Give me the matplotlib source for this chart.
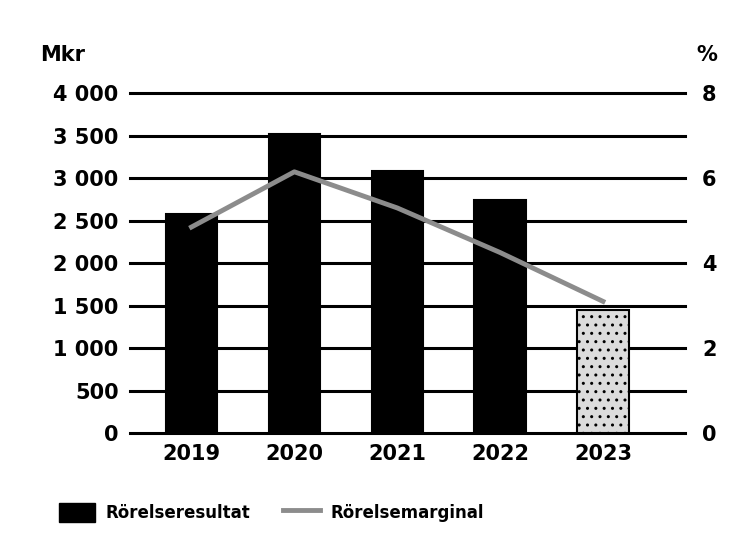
import matplotlib
matplotlib.use("Agg")
import matplotlib.pyplot as plt
from matplotlib.patches import Patch
from matplotlib.lines import Line2D

# data
years = ["2019", "2020", "2021", "2022", "2023"]
resultat_mkr = [2580, 3520, 3080, 2740, 1450]   # Rörelseresultat, Mkr
marginal_pct = [4.85, 6.15, 5.3, 4.25, 3.1]     # Rörelsemarginal, %
left_ticks = [0, 500, 1000, 1500, 2000, 2500, 3000, 3500, 4000]
left_labels = ["0", "500", "1 000", "1 500", "2 000", "2 500", "3 000", "3 500", "4 000"]
right_ticks = [0, 2, 4, 6, 8]

plt.rcParams["font.family"] = ["DejaVu Sans"]
plt.rcParams["font.weight"] = "bold"

fig = plt.figure(figsize=(7.29, 5.42), dpi=100)
ax = fig.add_axes([0.178, 0.201, 0.762, 0.627])

x = list(range(len(years)))
colors = ["black"] * 4 + ["#dcdcdc"]
hatches = [None] * 4 + [".."]
for xi, val, c, h in zip(x, resultat_mkr, colors, hatches):
    ax.bar(xi, val, width=0.5, color=c, edgecolor="black", hatch=h,
           linewidth=1.5, zorder=3)

ax.set_ylim(0, 4000)
ax.set_xlim(-0.6, 4.8)
ax.set_yticks(left_ticks)
ax.set_yticklabels(left_labels)
ax.set_xticks(x)
ax.set_xticklabels(years)
ax.grid(axis="y", color="black", linewidth=2.2, zorder=0)
for gl in ax.yaxis.get_gridlines():
    gl.set_clip_on(False)
ax.set_axisbelow(True)
ax.tick_params(axis="both", length=0, labelsize=15)
ax.tick_params(axis="y", pad=8)
ax.tick_params(axis="x", pad=8)
for s in ax.spines.values():
    s.set_visible(False)

ax2 = ax.twinx()
ax2.plot(x, marginal_pct, color="#8c8c8c", linewidth=3.5, zorder=4)
ax2.set_ylim(0, 8)
ax2.set_yticks(right_ticks)
ax2.tick_params(axis="y", length=0, labelsize=15, pad=12)
for s in ax2.spines.values():
    s.set_visible(False)

fig.text(0.055, 0.898, "Mkr", fontsize=15, fontweight="bold", ha="left", va="center")
fig.text(0.955, 0.898, "%", fontsize=15, fontweight="bold", ha="left", va="center")

handles = [Patch(facecolor="black", edgecolor="black"),
           Line2D([0], [0], color="#8c8c8c", linewidth=3.5)]
fig.legend(handles, ["Rörelseresultat", "Rörelsemarginal"], loc="center left",
           bbox_to_anchor=(0.06, 0.055), ncol=2, frameon=False, fontsize=12,
           handlelength=2.2, handleheight=1.4, columnspacing=2.0, handletextpad=0.6)

fig.savefig("out.png", dpi=100)
